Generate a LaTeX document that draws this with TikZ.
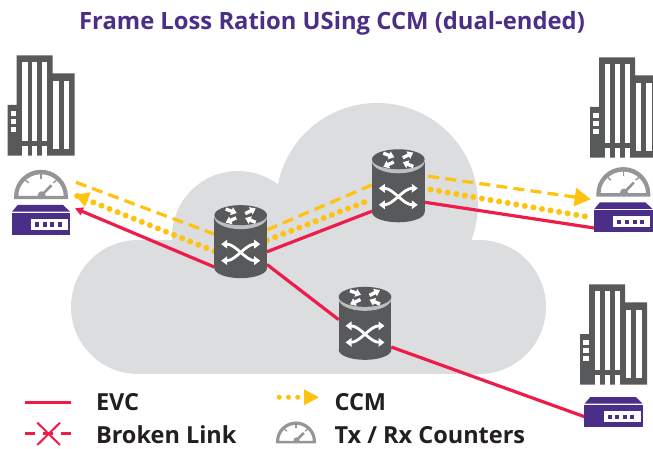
\documentclass[tikz,border=0pt]{standalone}
\usepackage{fontspec}
\setmainfont{Open Sans}
\usetikzlibrary{arrows.meta}
\definecolor{cloudc}{HTML}{DCDDDF}
\definecolor{darkc}{HTML}{58595B}
\definecolor{rimc}{HTML}{BCBEC0}
\definecolor{purp}{HTML}{4B2E88}
\definecolor{redc}{HTML}{EE1C4A}
\definecolor{yelc}{HTML}{FFC20E}
\definecolor{gaugec}{HTML}{939598}
\definecolor{inkc}{HTML}{231F20}
\tikzset{
  x=1pt,y=-1pt,
  ghost/.style={rectangle,inner sep=0pt,outer sep=0pt},
  routerbox/.style={ghost,minimum width=52.6pt,minimum height=73.3pt},
  devbox/.style={ghost,minimum width=58.6pt,minimum height=30pt},
  bldbox/.style={ghost,minimum width=67pt,minimum height=100.4pt},
  gaugebox/.style={ghost,minimum width=54pt,minimum height=29.5pt},
  evc/.style={draw=redc,line width=3.2pt},
  ccmdash/.style={draw=yelc,line width=3.2pt,dash pattern=on 11pt off 6.2pt},
  ccmdots/.style={draw=yelc,line width=6pt,line cap=round,dash pattern=on 0pt off 8.7pt},
  ccmtip/.style={fill=yelc,draw=none},
  legendtext/.style={ghost,anchor=base west,text=inkc,font=\bfseries\fontsize{23.5}{26}\selectfont},
  router/.pic={
    \fill[darkc] (-26.3,-24) rectangle (26.3,26.5);
    \fill[darkc] (0,26.5) circle[x radius=26.3,y radius=10];
    \fill[rimc] (0,-24.5) circle[x radius=26.3,y radius=12];
    \fill[darkc] (0,-26.5) circle[x radius=26.3,y radius=10];
    \begin{scope}[white,line width=3.4pt,-{Triangle[length=5.5pt,width=8pt]}]
      \draw (-15,-32.6) -- (-4,-28.6);
      \draw (4.5,-28) -- (15,-33.2);
      \draw (-4.5,-23.8) -- (-15,-19);
      \draw (15,-19.3) -- (4.5,-23.6);
    \end{scope}
    \begin{scope}[white,line width=2.8pt,{Triangle[length=6pt,width=8.5pt]}-{Triangle[length=6pt,width=8.5pt]}]
      \draw (-19.5,2.5) .. controls (-5,2.5) and (5,19) .. (19.5,19);
      \draw (-19.5,19) .. controls (-5,19) and (5,2.5) .. (19.5,2.5);
    \end{scope}
  },
  device/.pic={
    \fill[purp] (-23.3,-15) -- (22.2,-15) -- (29,-8.3) -- (-29,-8.3) -- cycle;
    \fill[purp] (-29.3,-7) rectangle (29.3,15);
    \fill[white] (-10,-1) rectangle (27,10);
    \foreach \q in {-6,1.7,9.2,16.7}{\fill[purp] (\q,2.5) rectangle ++(4,4);}
  },
  building/.pic={
    \fill[darkc] (9.2,0) -- (45.2,0) -- (45.2,18) -- (67,18) -- (67,100.4) -- (0,100.4) -- (0,49.7) -- (9.2,49.7) -- cycle;
    \foreach \q in {14.8,24.5,34.5}{
      \fill[white] (\q,6.7) rectangle ++(5.3,79);
      \fill[white] (\q,90.7) rectangle ++(5.3,9.7);
    }
    \foreach \q in {45.8,56.2}{\fill[white] (\q,25.4) rectangle ++(5.3,68.6);}
    \foreach \q in {55.4,63.7,72}{\fill[white] (3.2,\q) rectangle ++(5.3,5);}
  },
  gauge/.pic={
    \fill[gaugec,even odd rule]
      (-27,0) -- (-27,-2.5) .. controls (-27,-17.4) and (-14.9,-29.5) .. (0,-29.5)
      .. controls (14.9,-29.5) and (27,-17.4) .. (27,-2.5) -- (27,0) -- cycle
      (-22.7,-3.3) .. controls (-22.7,-15) and (-12.5,-25) .. (0,-25)
      .. controls (12.5,-25) and (22.7,-15) .. (22.7,-3.3) -- cycle;
    \fill[gaugec] (0.7,-4) circle[radius=4];
    \draw[gaugec,line width=2.6pt] (0.7,-4) -- (10.5,-14);
    \draw[gaugec,line width=1.4pt] (0,-26) -- (0,-20.5);
    \draw[gaugec,line width=1.4pt] (-15.5,-19) -- (-12.3,-16.5);
    \draw[gaugec,line width=1.4pt] (15.5,-19) -- (12.3,-16.5);
  }
}
\begin{document}
\begin{tikzpicture}
\useasboundingbox (0,0) rectangle (653,449);
% cloud
\fill[cloudc] (138,307) circle[radius=67] (238,237) circle[radius=66]
  (377,204) circle[radius=101] (479,307) circle[radius=67];
\fill[cloudc] (138,240) rectangle (479,374.3);
% anchors as invisible nodes
\node[routerbox] (ra) at (240.7,241.65) {};
\node[routerbox] (rb) at (398.3,185.8) {};
\node[routerbox] (rc) at (365,323.35) {};
\node[devbox] (devl) at (41,220) {};
\node[devbox] (devr) at (623.3,217.3) {};
\node[devbox] (devb) at (613.6,412) {};
\coordinate (redtip) at (75,208.3);
\coordinate (dashl) at (76,182.3);
\coordinate (dotl) at (75,195);
\coordinate (dashr) at (590.7,199.3);
\coordinate (dotr) at (586.7,216.7);
% red
\draw[evc,-{Triangle[length=8pt,width=8pt]}] (ra.224.2) -- (redtip);
\draw[evc] (ra.-21) -- (rb.224.5);
\draw[evc] (rb.-32) -- (devr.200.6);
\draw[evc] (ra.-41.9) -- (rc.172.8);
\draw[evc] (rc.-42) -- (devb.189);
% yellow
\draw[ccmdash] (dashl) -- (ra.164);
\draw[ccmdash] (ra.24.1) -- (rb.178);
\draw[ccmdash,shorten <=3.7pt,-{Triangle[length=16pt,width=18pt]}] (rb.21.4) -- (dashr);
\draw[ccmdots] (ra.200) -- (dotl);
\fill[ccmtip] (75,195) -- (90.7,192.3) -- (85,206.7) -- cycle;
\draw[ccmdots] (ra.3.6) -- (rb.207);
\draw[ccmdots,shorten <=6pt] (rb.-6.7) -- (dotr);
% routers
\pic at (ra) {router};
\pic at (rb) {router};
\pic at (rc) {router};
% devices
\pic at (devl) {device};
\pic at (devr) {device};
\pic at (devb) {device};
% buildings
\node[bldbox] (bl) at (41,105.5) {};
\node[bldbox] (br) at (623.5,107.5) {};
\node[bldbox] (bb) at (613.5,334.5) {};
\pic at (bl.north west) {building};
\pic at (br.north west) {building};
\pic at (bb.north west) {building};
% gauges
\node[gaugebox] (gl) at (41,184.5) {};
\node[gaugebox] (gr) at (623.3,181.8) {};
\pic at (gl.south) {gauge};
\pic at (gr.south) {gauge};
% title
\node[ghost,anchor=base,text=purp,font=\bfseries\fontsize{23.8}{26}\selectfont] (title) at (332,30) {Frame Loss Ration USing CCM (dual-ended)};
% legend
\coordinate (ka) at (25,402.7); \coordinate (kb) at (71,402.7);
\draw[evc,line width=2.6pt] (ka) -- (kb);
\coordinate (la) at (25,433.3); \coordinate (lb) at (35,433.3);
\coordinate (lc) at (43,433.3); \coordinate (ld) at (53,433.3);
\coordinate (le) at (60.5,433.3); \coordinate (lf) at (71,433.3);
\coordinate (xa) at (37.3,422.7); \coordinate (xb) at (60,445);
\coordinate (xc) at (60,422.7); \coordinate (xd) at (37.3,445);
\draw[evc,line width=2.4pt] (la) -- (lb);
\draw[evc,line width=2.4pt] (lc) -- (ld);
\draw[evc,line width=2.4pt] (le) -- (lf);
\draw[evc,line width=2pt] (xa) -- (xb);
\draw[evc,line width=2pt] (xc) -- (xd);
\coordinate (ma) at (279.3,397.3); \coordinate (mb) at (304,397.3);
\draw[ccmdots,line width=5pt,dash pattern=on 0pt off 9.2pt] (ma) -- (mb);
\fill[ccmtip] (304,389.3) -- (319,397.3) -- (304,405.3) -- cycle;
\node[legendtext] (t1) at (96,410) {EVC};
\node[legendtext] (t2) at (96,443) {Broken Link};
\node[legendtext] (t3) at (334.5,410) {CCM};
\node[legendtext] (t4) at (334.5,443) {Tx / Rx Counters};
\coordinate (gk) at (296,443.3);
\pic[scale=.74] at (gk) {gauge};
\end{tikzpicture}
\end{document}
